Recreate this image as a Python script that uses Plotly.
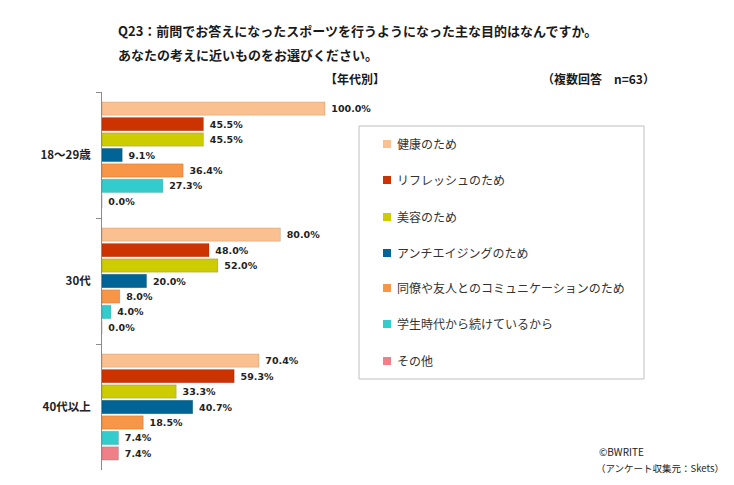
import plotly.graph_objects as go

categories = ["18〜29歳", "30代", "40代以上"]
series_names = ["健康のため", "リフレッシュのため", "美容のため", "アンチエイジングのため",
                "同僚や友人とのコミュニケーションのため", "学生時代から続けているから", "その他"]
values = [
    [100.0, 80.0, 70.4],
    [45.5, 48.0, 59.3],
    [45.5, 52.0, 33.3],
    [9.1, 20.0, 40.7],
    [36.4, 8.0, 18.5],
    [27.3, 4.0, 7.4],
    [0.0, 0.0, 7.4],
]
colors = ["#FAC090", "#CC3300", "#CCCC00", "#006496", "#F79646", "#33CCCC", "#F08088"]

W, H = 734, 485
L, T, B = 102, 92, 15
PW = W - L
PH = H - T - B
XMAX = 100 * PW / 223.0

def px(x):
    return (x - L) / PW

def py(y):
    return (H - B - y) / PH

fig = go.Figure()
for name, vals, c in zip(series_names, values, colors):
    fig.add_trace(go.Bar(
        y=categories, x=vals, name=name, orientation="h",
        marker=dict(color=c, line=dict(color="rgba(0,0,0,0.12)", width=1)),
        texttemplate="\u00a0%{x:.1f}%", textposition="outside",
        textfont=dict(family="DejaVu Sans", size=9.5, color="#222", weight="bold"),
        cliponaxis=False, showlegend=False,
    ))

fig.update_layout(
    width=W, height=H,
    margin=dict(l=L, r=0, t=T, b=B),
    barmode="group", bargap=0.14, bargroupgap=0.14,
    plot_bgcolor="white", paper_bgcolor="white",
    font=dict(family="Noto Sans CJK JP", color="#222"),
    xaxis=dict(range=[0, XMAX], visible=False, fixedrange=True),
    yaxis=dict(autorange="reversed", showline=True, linecolor="#8c8c8c", linewidth=1,
               ticks="outside", tickson="boundaries", ticklen=5, tickcolor="#8c8c8c",
               ticklabelstandoff=8,
               tickfont=dict(family="Noto Sans CJK JP", size=11.5, color="#222", weight="bold"),
               showgrid=False, zeroline=False),
)

ann = []
ann.append(dict(text="Q23：前問でお答えになったスポーツを行うようになった主な目的はなんですか。",
                x=px(116), y=py(30), xanchor="left", yanchor="middle",
                font=dict(size=13, weight="bold", color="#1a1a1a")))
ann.append(dict(text="あなたの考えに近いものをお選びください。",
                x=px(116), y=py(54), xanchor="left", yanchor="middle",
                font=dict(size=13, weight="bold", color="#1a1a1a")))
ann.append(dict(text="【年代別】", x=px(355), y=py(78), xanchor="center", yanchor="middle",
                font=dict(size=12, weight="bold", color="#1a1a1a")))
ann.append(dict(text="（複数回答　n=63）", x=px(598), y=py(78), xanchor="center", yanchor="middle",
                font=dict(size=12, weight="bold", color="#1a1a1a")))
ann.append(dict(text="©BWRITE", x=px(597), y=py(451), xanchor="left", yanchor="middle",
                font=dict(size=10, color="#222")))
ann.append(dict(text="（アンケート収集元：Skets）", x=px(594), y=py(468), xanchor="left", yanchor="middle",
                font=dict(size=9.5, color="#222")))

shapes = [dict(type="rect", xref="paper", yref="paper",
               x0=px(359), x1=px(644), y0=py(126), y1=py(379),
               line=dict(color="#BFBFBF", width=1), fillcolor="rgba(0,0,0,0)")]
row_y = [143, 179, 216, 252, 287, 323, 360]
for name, c, yy in zip(series_names, colors, row_y):
    shapes.append(dict(type="rect", xref="paper", yref="paper",
                       x0=px(383), x1=px(391), y0=py(yy - 3), y1=py(yy + 5),
                       line=dict(width=0), fillcolor=c))
    ann.append(dict(text=name, x=px(395), y=py(yy), xanchor="left", yanchor="middle",
                    font=dict(size=12, color="#333")))

for a in ann:
    a.update(xref="paper", yref="paper", showarrow=False)
fig.update_layout(annotations=ann, shapes=shapes)

fig.write_html("out.html", config={"displayModeBar": False},
               post_script="document.body.style.margin='0';document.body.style.overflow='hidden';")
